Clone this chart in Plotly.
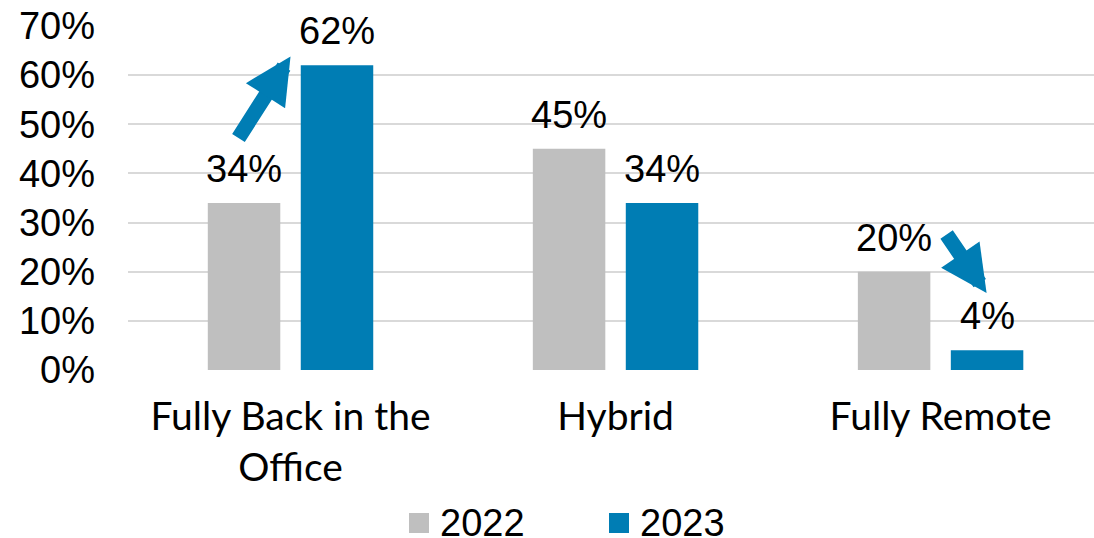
import plotly.graph_objects as go

# Share of respondents by work arrangement
categories = ["Fully Back in the<br>Office", "Hybrid", "Fully Remote"]
series_names = ["2022", "2023"]
share_2022 = [0.34, 0.45, 0.20]
share_2023 = [0.62, 0.34, 0.04]
tick_values = [0.0, 0.1, 0.2, 0.3, 0.4, 0.5, 0.6, 0.7]
tick_labels = ["0%", "10%", "20%", "30%", "40%", "50%", "60%", "70%"]

GRAY = "#BFBFBF"
BLUE = "#007DB4"
GRID = "#D9D9D9"
NUM_FONT = "Liberation Sans, Arial, sans-serif"
CAT_FONT = "Lato, Liberation Sans, sans-serif"

BAR_W = 0.223
OFFSETS = [-0.2545, 0.0315]
COLORS = [GRAY, BLUE]

fig = go.Figure()
for name, vals, color, off in zip(series_names, [share_2022, share_2023], COLORS, OFFSETS):
    fig.add_trace(go.Bar(
        x=categories, y=vals, width=BAR_W, offset=off, name=name,
        marker=dict(color=color, line=dict(width=0)),
        showlegend=False, hoverinfo="skip",
    ))

annotations = []
shapes = []
# Value labels above each bar
for vals, off in zip([share_2022, share_2023], OFFSETS):
    for i, v in enumerate(vals):
        annotations.append(dict(
            x=i + off + BAR_W / 2, y=v, xref="x", yref="y",
            text=f"{round(v * 100)}%", showarrow=False,
            xanchor="center", yanchor="bottom", yshift=11,
            font=dict(family=NUM_FONT, size=38, color="#000000"),
        ))

# Change arrows between years
annotations.append(dict(
    x=0.0, y=0.638, xref="x", yref="y", text="", showarrow=True,
    ax=-53, ay=83, axref="pixel", ayref="pixel",
    arrowhead=2, arrowsize=0.62, arrowwidth=15, arrowcolor=BLUE,
))
annotations.append(dict(
    x=2.1415, y=0.1565, xref="x", yref="y", text="", showarrow=True,
    ax=-41, ay=-60, axref="pixel", ayref="pixel",
    arrowhead=2, arrowsize=0.62, arrowwidth=15, arrowcolor=BLUE,
))

# Legend: colour swatch followed by the series name
PLOT_L, PLOT_W = 128, 966
PLOT_B, PLOT_H = 370, 344
legend_left = [409, 609]
for name, color, left in zip(series_names, COLORS, legend_left):
    shapes.append(dict(
        type="rect", xref="paper", yref="paper",
        x0=(left - PLOT_L) / PLOT_W, x1=(left + 20 - PLOT_L) / PLOT_W,
        y0=(PLOT_B - 533) / PLOT_H, y1=(PLOT_B - 513) / PLOT_H,
        fillcolor=color, line=dict(width=0), layer="above",
    ))
    annotations.append(dict(
        x=(left + 29 - PLOT_L) / PLOT_W, y=(PLOT_B - 523) / PLOT_H,
        xref="paper", yref="paper", text=name, showarrow=False,
        xanchor="left", yanchor="middle",
        font=dict(family=NUM_FONT, size=38, color="#000000"),
    ))

fig.update_layout(
    width=1094, height=538,
    margin=dict(l=128, r=0, t=26, b=168),
    paper_bgcolor="white", plot_bgcolor="white",
    barmode="overlay",
    annotations=annotations,
    shapes=shapes,
    showlegend=False,
    xaxis=dict(
        type="category", range=[-0.5, 2.472],
        showgrid=False, zeroline=False, showline=False, ticks="",
        tickfont=dict(family=CAT_FONT, size=39, color="#000000"),
        ticklabelstandoff=20,
    ),
    yaxis=dict(
        range=[0, 0.7], tickvals=tick_values, ticktext=tick_labels,
        showgrid=True, gridcolor=GRID, gridwidth=2,
        zeroline=False, showline=False, ticks="",
        tickfont=dict(family=NUM_FONT, size=38, color="#000000"),
        ticklabelstandoff=32,
    ),
)

fig.write_html("out.html")
